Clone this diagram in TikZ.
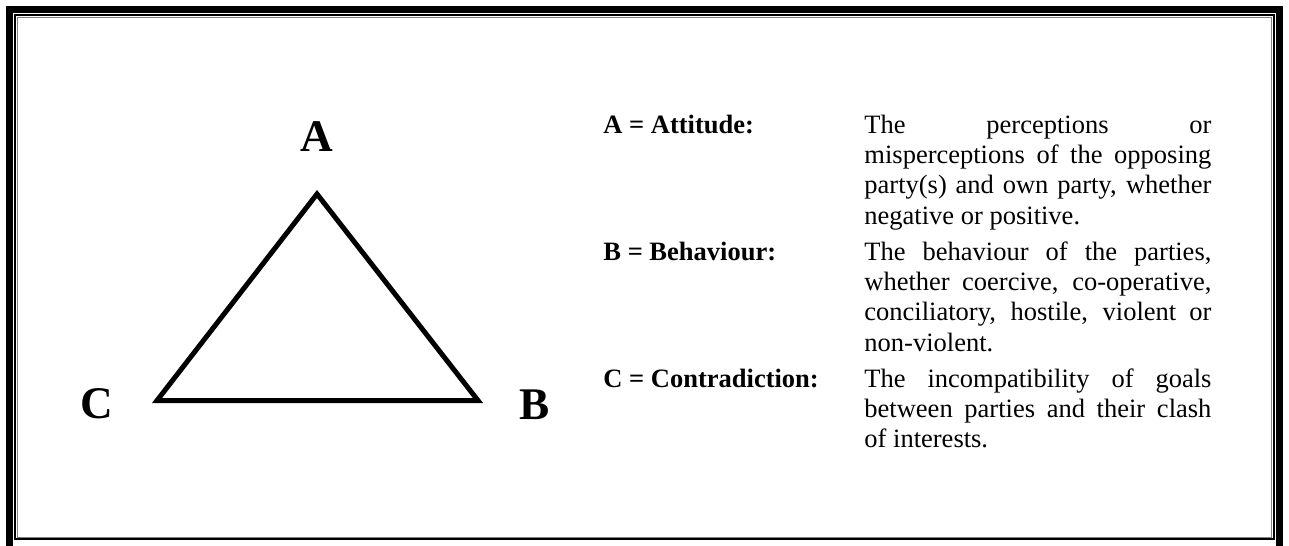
\documentclass[tikz,border=0pt]{standalone}
\usepackage{fontspec}
\setmainfont{Liberation Serif}
\begin{document}
\begin{tikzpicture}[x=0.4528pt,y=-0.4528pt,
  biglabel/.style={font=\bfseries\fontsize{20.5}{20.5}\selectfont, anchor=base, inner sep=0pt},
  keylabel/.style={font=\bfseries\fontsize{12}{13.8}\selectfont, anchor=base west, inner sep=0pt},
  keytext/.style={font=\fontsize{12}{13.8}\selectfont, anchor=base west, inner sep=0pt},
  tri/.style={line width=2.26pt, line join=miter, draw=black}
]
\useasboundingbox (0,0) rectangle (1289,545);
\clip (0,0) rectangle (1289,545);
\fill[white] (0,0) rectangle (1289,545);
% page border (thick-thin)
\draw[line width=3.03pt, black] (9.3,9.3) rectangle (1279.5,560);
\draw[line width=0.77pt, black] (14.7,14.7) rectangle (1273.8,539.2);
\draw[line width=0.45pt, black!50] (17.2,17.2) rectangle (1271.2,537);
% triangle
\coordinate (tA) at (317,194);
\coordinate (tB) at (478,400.5);
\coordinate (tC) at (157,400.5);
\draw[tri] (tA) -- (tB) -- (tC) -- cycle;
\node[biglabel] (lA) at (316.5,151) {A};
\node[biglabel] (lB) at (535,419) {B};
\node[biglabel] (lC) at (97,418) {C};
% key
\newcommand{\desc}[1]{\parbox[t]{157.1pt}{\tolerance=10000\hbadness=10000\hyphenpenalty=10000\fontsize{12}{13.8}\selectfont #1}}
\node[keylabel] (kA) at (603,133) {A = Attitude:};
\node[keytext] (dA) at (864,133) {\desc{The\hfill perceptions\hfill or\linebreak misperceptions of the opposing\linebreak party(s) and own party, whether\linebreak negative or positive.}};
\node[keylabel] (kB) at (603,260) {B = Behaviour:};
\node[keytext] (dB) at (864,260) {\desc{The behaviour of the parties,\linebreak whether coercive, co-operative,\linebreak conciliatory, hostile, violent or\linebreak non-violent.}};
\node[keylabel] (kC) at (603,387) {C = Contradiction:};
\node[keytext] (dC) at (864,387) {\desc{The incompatibility of goals\linebreak between parties and their clash\linebreak of interests.}};
\end{tikzpicture}
\end{document}
